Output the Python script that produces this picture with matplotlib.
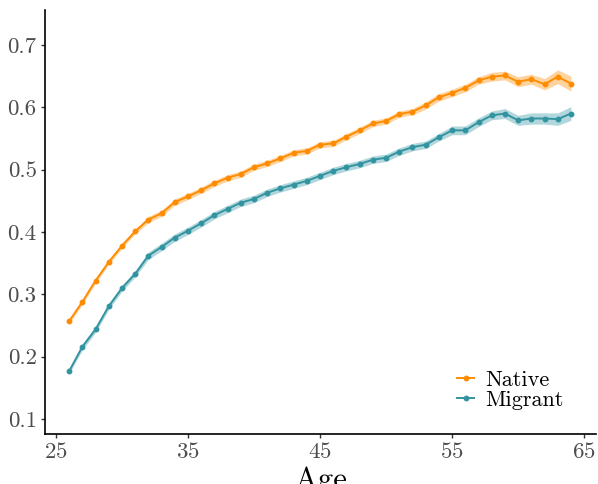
import numpy as np
import matplotlib
matplotlib.use("Agg")
import matplotlib.pyplot as plt

# data
ages = list(range(26, 65))
native = [0.257, 0.288, 0.322, 0.352, 0.378, 0.401, 0.420, 0.430, 0.448, 0.457,
          0.467, 0.478, 0.487, 0.493, 0.504, 0.510, 0.518, 0.527, 0.530, 0.540,
          0.542, 0.553, 0.563, 0.574, 0.578, 0.589, 0.593, 0.603, 0.616, 0.623,
          0.631, 0.643, 0.649, 0.651, 0.641, 0.645, 0.637, 0.649, 0.638]
migrant = [0.177, 0.216, 0.244, 0.281, 0.310, 0.333, 0.362, 0.376, 0.391, 0.402,
           0.414, 0.427, 0.437, 0.447, 0.453, 0.463, 0.470, 0.476, 0.482, 0.490,
           0.498, 0.504, 0.509, 0.516, 0.519, 0.529, 0.536, 0.540, 0.552, 0.563,
           0.563, 0.576, 0.587, 0.590, 0.579, 0.582, 0.582, 0.581, 0.590]
# half widths of the confidence bands
native_ci = [0.004, 0.004, 0.004, 0.004, 0.004, 0.004, 0.005, 0.005, 0.005, 0.005,
             0.005, 0.005, 0.005, 0.005, 0.005, 0.005, 0.005, 0.005, 0.005, 0.005,
             0.005, 0.005, 0.005, 0.005, 0.005, 0.005, 0.005, 0.006, 0.006, 0.006,
             0.006, 0.006, 0.007, 0.007, 0.008, 0.008, 0.009, 0.011, 0.012]
migrant_ci = [0.004, 0.005, 0.005, 0.005, 0.005, 0.005, 0.006, 0.006, 0.006, 0.006,
              0.006, 0.006, 0.006, 0.006, 0.006, 0.006, 0.006, 0.006, 0.006, 0.006,
              0.006, 0.006, 0.006, 0.006, 0.006, 0.006, 0.006, 0.006, 0.006, 0.007,
              0.007, 0.007, 0.007, 0.008, 0.008, 0.009, 0.009, 0.010, 0.011]
xticks = [25, 35, 45, 55, 65]
yticks = [0.1, 0.2, 0.3, 0.4, 0.5, 0.6, 0.7]

plt.rcParams['font.family'] = ['cmr10', 'DejaVu Serif']
plt.rcParams['axes.formatter.use_mathtext'] = True

orange, teal = '#FF8C00', '#3394A1'

fig = plt.figure(figsize=(5.98, 4.84), dpi=100)
ax = fig.add_axes([0.0753, 0.1033, 0.9214, 0.876])

x = np.array(ages)
for vals, ci, col, lab in [(native, native_ci, orange, 'Native'),
                           (migrant, migrant_ci, teal, 'Migrant')]:
    v, c = np.array(vals), np.array(ci)
    ax.fill_between(x, v - c, v + c, color=col, alpha=0.38, lw=0)
    ax.plot(x, v, color=col, lw=1.4, marker='o', ms=3.2, label=lab)

ax.set_xlim(24.17, 65.9)
ax.set_ylim(0.076, 0.756)
ax.set_xticks(xticks)
ax.set_yticks(yticks)
ax.set_yticklabels([f"{t:.1f}" for t in yticks])
ax.tick_params(labelsize=16.5, labelcolor='#4d4d4d', length=3, width=1,
               color='#333333', pad=3)
ax.spines['top'].set_visible(False)
ax.spines['right'].set_visible(False)
ax.spines['left'].set_linewidth(1.2)
ax.spines['bottom'].set_linewidth(1.2)
ax.set_xlabel('Age', fontsize=22, labelpad=3)

ax.legend(loc='lower right', bbox_to_anchor=(0.978, 0.01), frameon=False,
          fontsize=16, handlelength=0.8, handletextpad=0.5, labelspacing=0.0)

fig.savefig('out.png', dpi=100)
